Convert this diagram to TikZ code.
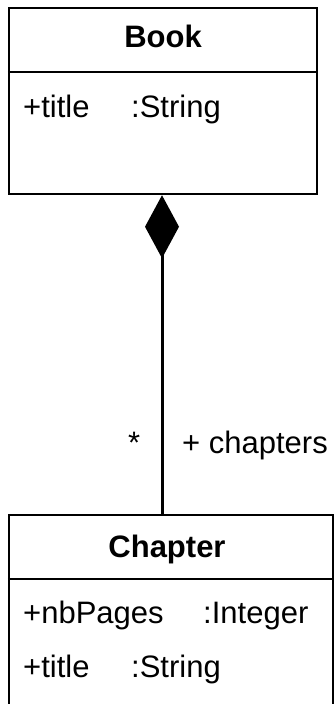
\documentclass[tikz,border=0pt]{standalone}
\usepackage{fontspec}
\setmainfont{Liberation Sans}
\usetikzlibrary{arrows.meta,positioning}
\tikzset{
  classbox/.style={draw, rectangle, line width=2.5pt, inner sep=0pt},
  classname/.style={font=\fontsize{31}{37}\selectfont\bfseries, anchor=base, inner sep=0pt},
  attr/.style={font=\fontsize{31}{37}\selectfont, anchor=base west, inner sep=0pt},
  rolelabel/.style={font=\fontsize{31}{37}\selectfont, anchor=base west, inner sep=0pt},
  compose/.style={{Diamond[length=63pt, width=34pt]}-, line width=3pt}
}
\begin{document}
\begin{tikzpicture}[x=1pt,y=1pt]
  \clip (0,0) rectangle (334,-704);
  \node[classbox, minimum width=308pt, minimum height=186pt] (book) at (163,-101) {};
  \draw[line width=2.5pt] (book.west |- 0,-72) -- (book.east |- 0,-72);
  \node[classname] (booktitle) at (163,-47) {Book};
  \node[attr] (bookattr) at (23,-117) {+title};
  \node[attr] (booktype) at (131,-117) {:String};
  \node[classbox, minimum width=324.5pt, minimum height=210pt] (chapter) at (171.25,-620) {};
  \draw[line width=2.5pt] (chapter.west |- 0,-579) -- (chapter.east |- 0,-579);
  \node[classname] (chaptertitle) at (167,-557) {Chapter};
  \node[attr] (pagesattr) at (23,-623) {+nbPages};
  \node[attr] (pagestype) at (203,-623) {:Integer};
  \node[attr] (chapattr) at (23,-677) {+title};
  \node[attr] (chaptype) at (131,-677) {:String};
  \draw[compose] (book.south -| 162,0) -- (chapter.north -| 162,0);
  \node[rolelabel] (mult) at (128,-453) {*};
  \node[rolelabel] (role) at (182,-453) {+ chapters};
\end{tikzpicture}
\end{document}
